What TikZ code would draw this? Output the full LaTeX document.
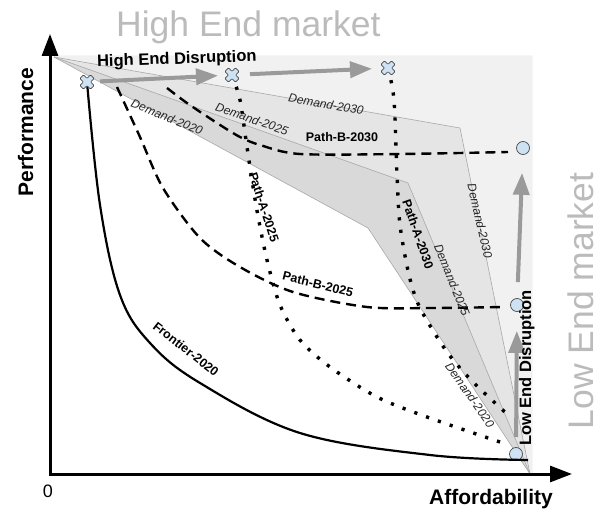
\documentclass[tikz,border=0pt]{standalone}
\usepackage{fontspec}
\setmainfont{Liberation Sans}
\usetikzlibrary{arrows.meta}

\definecolor{shadeA}{HTML}{F1F1F1}
\definecolor{shadeB}{HTML}{E5E5E5}
\definecolor{shadeC}{HTML}{D9D9D9}
\definecolor{edgegray}{HTML}{A8A8A8}
\definecolor{markfill}{HTML}{CFE2F3}
\definecolor{markline}{HTML}{4D4D4D}
\definecolor{flowgray}{HTML}{9A9A9A}
\definecolor{marketgray}{HTML}{BBBBBB}

\tikzset{
  axisline/.style={line width=3pt, line join=miter,
    {Triangle[length=22pt,width=16pt]}-{Triangle[length=22pt,width=16pt]}},
  frontier/.style={line width=2.2pt},
  pathB/.style={line width=2.4pt, dash pattern=on 10pt off 6pt},
  pathA/.style={line width=3.4pt, dash pattern=on 3.2pt off 9.3pt},
  demandedge/.style={draw=edgegray, line width=0.6pt},
  flow/.style={draw=flowgray, line width=4pt, -{Triangle[length=22pt,width=16pt]}},
  dotmark/.style={circle, draw=markline, fill=markfill, line width=0.7pt,
    minimum size=13pt, inner sep=0pt},
  xmark/.pic={\path[draw=markline, fill=markfill, line width=0.7pt, rotate=45,
    rounded corners=0.8pt]
    (-2.5,7.5)--(2.5,7.5)--(2.5,2.5)--(7.5,2.5)--(7.5,-2.5)--(2.5,-2.5)--
    (2.5,-7.5)--(-2.5,-7.5)--(-2.5,-2.5)--(-7.5,-2.5)--(-7.5,2.5)--(-2.5,2.5)--cycle;},
  demandlbl/.style={font=\fontsize{12}{12}\selectfont\itshape, text=black!85, inner sep=0pt},
  pathlbl/.style={font=\fontsize{12.5}{12.5}\selectfont\bfseries, inner sep=0pt},
  axislbl/.style={font=\fontsize{21}{21}\selectfont\bfseries, inner sep=0pt},
  disruptlbl/.style={font=\fontsize{16.5}{16.5}\selectfont\bfseries, inner sep=0pt},
  marketlbl/.style={font=\fontsize{35.5}{35.5}\selectfont, text=marketgray, inner sep=0pt},
}

\begin{document}
\begin{tikzpicture}[x=1pt, y=-1pt]
\useasboundingbox (0,0) rectangle (600,511);

% key points of the chart
\coordinate (origin) at (50,474);
\coordinate (yend) at (50,34);
\coordinate (xend) at (572,474);
\coordinate (apex) at (54,57);
\coordinate (base) at (530,474);
\coordinate (boxtr) at (532,56);
\coordinate (boxbr) at (532,474);
\coordinate (v20) at (368,228);
\coordinate (v25) at (408,183);
\coordinate (v30) at (460,128);

% demand regions, layered from the widest to the narrowest
\fill[shadeC] (apex) -- (v20) -- (base) -- (boxbr) -- (boxtr) -- (apex |- boxtr) -- cycle;
\fill[shadeB] (apex) -- (v25) -- (base) -- (boxbr) -- (boxtr) -- (apex |- boxtr) -- cycle;
\fill[shadeA] (apex) -- (v30) -- (base) -- (boxbr) -- (boxtr) -- (apex |- boxtr) -- cycle;
\draw[demandedge] (apex) -- (v20) -- (base);
\draw[demandedge] (apex) -- (v25) -- (base);
\draw[demandedge] (apex) -- (v30) -- (base);

% marks
\coordinate (hx1) at (87,82);
\coordinate (hx2) at (232,75);
\coordinate (hx3) at (388,68);
\node[dotmark] (c30) at (523,148) {};
\node[dotmark] (c25) at (517,305) {};
\node[dotmark] (c20) at (516,454) {};

% curve ends
\coordinate (fe) at (528,460);
\coordinate (b25s) at (117,87);
\coordinate (b25e) at (503,307);
\coordinate (b30s) at (167,88);
\coordinate (b30e) at (508,152);
\coordinate (a25e) at (500,442);
\coordinate (a30e) at (506,413);

% axes
\draw[axisline] (yend) -- (origin) -- (xend);

% frontier
\draw[frontier] plot[smooth, tension=0.6] coordinates {(hx1) (100,205)
  (120,295) (150,343) (200,383) (300,433) (430,455) (fe)};

% paths B (dashed)
\draw[pathB] plot[smooth, tension=0.5] coordinates {(b25s) (140,137)
  (163,188) (200,238) (240,267) (293,292) (367,307) (433,308) (b25e)};
\draw[pathB] plot[smooth, tension=0.5] coordinates {(b30s) (187,103) (217,123)
  (240,137) (260,145) (300,154) (400,154) (b30e)};

% paths A (dotted)
\draw[pathA] plot[smooth, tension=0.5] coordinates {(hx2) (240,100)
  (247,147) (256,205) (267,260) (280,305) (300,340) (330,367) (377,397)
  (427,417) (a25e)};
\draw[pathA] plot[smooth, tension=0.5] coordinates {(hx3) (394,100)
  (397,175) (400,225) (409,275) (420,308) (447,352) (473,382) (a30e)};

% disruption arrows
\draw[flow, shorten <=13pt, shorten >=14pt] (hx1) -- (hx2);
\draw[flow, shorten <=18pt, shorten >=16pt] (hx2) -- (hx3);
\draw[flow, shorten <=10pt, shorten >=19pt] (c20) -- (c25);
\draw[flow, shorten <=16pt, shorten >=18pt] (c25) -- (c30);

% cross marks on top
\path (hx1) pic {xmark};
\path (hx2) pic {xmark};
\path (hx3) pic {xmark};

% labels
\node[marketlbl, anchor=base west] (himkt) at (116,37) {High End market};
\node[marketlbl, anchor=base, rotate=90] (lomkt) at (593,301) {Low End market};
\node[axislbl, anchor=base, rotate=90] (perf) at (33,132) {Performance};
\node[axislbl, anchor=base] (afford) at (491,504) {Affordability};
\node[font=\fontsize{18}{18}\selectfont, anchor=base, inner sep=0pt] (zero) at (48,497) {0};
\node[disruptlbl, anchor=base, rotate=2] (hed) at (177,64) {High End Disruption};
\node[disruptlbl, anchor=base, rotate=90] (led) at (531,368) {Low End Disruption};

\node[pathlbl, rotate=-38] (lfront) at (186,349) {Frontier-2020};
\node[pathlbl, rotate=-14] (lb25) at (318,284) {Path-B-2025};
\node[pathlbl] (lb30) at (342,137) {Path-B-2030};
\node[pathlbl, rotate=-72] (la25) at (264,207) {Path-A-2025};
\node[pathlbl, rotate=-71] (la30) at (418,234) {Path-A-2030};

\node[demandlbl, rotate=-22] (d20a) at (167,117) {Demand-2020};
\node[demandlbl, rotate=-19] (d25a) at (252,119) {Demand-2025};
\node[demandlbl, rotate=-10] (d30a) at (326,104) {Demand-2030};
\node[demandlbl, rotate=-77] (d30b) at (480,221) {Demand-2030};
\node[demandlbl, rotate=-68] (d25b) at (452,280) {Demand-2025};
\node[demandlbl, rotate=-55] (d20b) at (470,395) {Demand-2020};
\end{tikzpicture}
\end{document}
